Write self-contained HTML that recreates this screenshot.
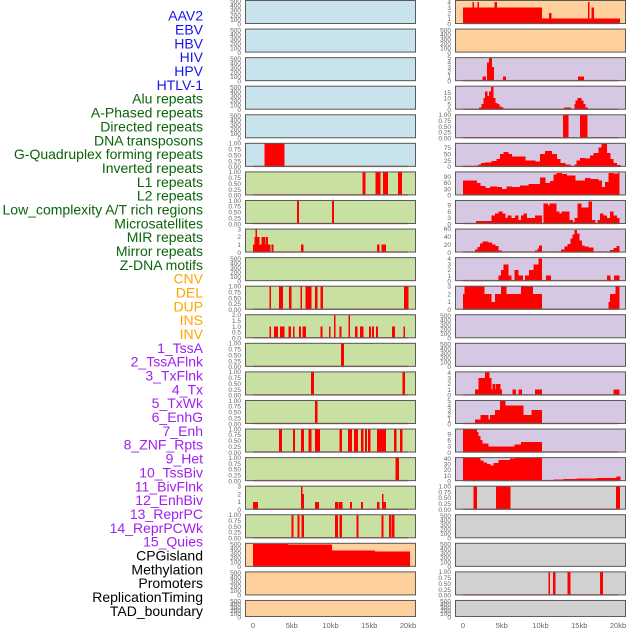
<!DOCTYPE html>
<html><head><meta charset="utf-8"><style>
html,body{margin:0;padding:0;background:#fff;}
svg{display:block;font-family:"Liberation Sans",sans-serif;}
</style></head><body>
<svg id="chart" width="630" height="630" viewBox="0 0 630 630" xmlns="http://www.w3.org/2000/svg"></svg>
<script>
// ---------- data ----------
const featureLabels = ["AAV2","EBV","HBV","HIV","HPV","HTLV-1","Alu repeats","A-Phased repeats","Directed repeats","DNA transposons","G-Quadruplex forming repeats","Inverted repeats","L1 repeats","L2 repeats","Low_complexity A/T rich regions","Microsatellites","MIR repeats","Mirror repeats","Z-DNA motifs","CNV","DEL","DUP","INS","INV","1_TssA","2_TssAFlnk","3_TxFlnk","4_Tx","5_TxWk","6_EnhG","7_Enh","8_ZNF_Rpts","9_Het","10_TssBiv","11_BivFlnk","12_EnhBiv","13_ReprPC","14_ReprPCWk","15_Quies","CPGisland","Methylation","Promoters","ReplicationTiming","TAD_boundary"];
const labelColors = ["#1515ee","#1515ee","#1515ee","#1515ee","#1515ee","#1515ee","#0a640a","#0a640a","#0a640a","#0a640a","#0a640a","#0a640a","#0a640a","#0a640a","#0a640a","#0a640a","#0a640a","#0a640a","#0a640a","#ffa500","#ffa500","#ffa500","#ffa500","#ffa500","#a020f0","#a020f0","#a020f0","#a020f0","#a020f0","#a020f0","#a020f0","#a020f0","#a020f0","#a020f0","#a020f0","#a020f0","#a020f0","#a020f0","#a020f0","#000","#000","#000","#000","#000"];
const xTicks = [0,5,10,15,20];
const xTickLabels = ["0","5kb","10kb","15kb","20kb"];

// segments: [startKb, endKb, value]
const L6 = [[1.5,4.0,1]];
const L7 = [[14.1,14.5,1],[15.8,16.4,1],[16.8,17.4,1],[18.7,19.2,1]];
const L8 = [[5.7,5.9,1],[10.2,10.4,1]];
const L9 = [[0,0.2,1],[0.2,0.3,2],[0.3,0.5,3],[0.5,0.8,2],[0.8,1.1,1],[1.1,1.6,2],[1.6,1.7,1],[1.7,1.9,2],[1.9,2.2,1],[2.4,2.6,1],[6.2,6.5,1],[16.0,16.3,1],[16.6,17.1,1]];
const L11 = [[2.1,2.3,1],[3.35,3.8,1],[4.65,4.9,1],[6.1,6.3,1],[6.8,7.5,1],[8.0,8.3,1],[8.7,9.0,1],[19.5,20.0,1]];
const L12 = [[2.1,2.28,1],[2.71,3.18,1],[3.48,4.0,1],[4.56,4.86,1],[5.16,5.33,1],[5.94,6.15,1],[6.37,6.8,1],[8.69,8.95,1],[9.8,9.98,1],[10.45,10.62,2],[11.14,11.4,1],[12.3,12.47,2],[13.16,13.46,1],[13.8,14.24,1],[14.97,15.18,1],[15.35,15.6,1],[15.87,16.09,1],[17.94,18.28,1],[19.4,19.6,1]];
const L13 = [[11.35,11.7,1]];
const L14 = [[7.48,7.83,1],[19.27,19.6,1]];
const L15 = [[8.0,8.26,1]];
const L16 = [[3.35,3.7,1],[5.16,5.38,1],[6.19,6.54,1],[7.14,7.48,1],[8.0,8.6,1],[11.14,11.44,1],[12.26,12.73,1],[13.03,13.5,1],[13.94,14.19,1],[14.45,14.7,1],[14.84,15.1,1],[16.0,17.12,1],[18.2,18.45,1],[18.97,19.23,1]];
const L17 = [[18.37,18.8,1]];
const L18 = [[0,0.6,1],[6.19,6.37,3],[6.37,6.54,2],[8.0,8.48,1],[10.58,10.97,1],[11.1,11.48,1],[12.52,12.73,1],[13.94,14.15,1],[16.0,16.3,1],[16.65,16.8,2],[16.8,17.1,1]];
const L19 = [[4.95,5.16,1],[5.72,5.98,1],[6.24,6.54,1],[10.58,10.92,1],[11.14,11.44,1],[13.33,13.55,1],[16.6,16.8,1],[17.55,17.8,1],[17.94,18.2,1]];
const L20 = [[0,4.5,510],[4.5,10.15,495],[10.15,15.7,365],[15.7,20.2,343]];

const R1 = [[0,1.2,3],[1.2,1.37,4],[1.37,1.85,3],[1.85,2.02,4],[2.02,4.04,3],[4.04,4.34,4],[4.34,10.15,3],[10.15,11.1,1],[11.1,11.4,2],[11.4,16.13,1],[16.13,16.3,4],[16.3,16.6,1],[16.6,16.86,3],[16.86,20.2,1]];
const R3 = [[2.5,2.9,1],[3.1,3.35,4],[3.35,3.7,5],[3.7,3.96,3],[5.16,5.5,1],[14.84,15.57,1]];
const R4 = [[2.06,2.41,2],[2.41,2.67,5],[2.67,2.84,10],[2.84,3.1,16],[3.1,3.35,12],[3.35,3.61,16],[3.61,3.87,20],[3.87,4.13,10],[4.13,4.39,6],[4.39,4.65,5],[4.65,4.9,3],[4.9,5.16,2],[5.16,5.42,1],[13.03,13.9,2],[14.37,14.54,5],[14.54,14.8,8],[14.8,15.23,10],[15.23,15.48,8],[15.48,15.74,5],[15.74,16.09,2]];
const R5 = [[12.9,13.55,1],[15.1,16.0,1]];
const R6 = [[0,1.12,3],[1.55,1.98,5],[1.98,2.32,10],[2.32,2.84,15],[2.84,3.7,18],[3.7,4.34,22],[4.34,4.77,30],[4.77,5.2,50],[5.2,5.85,58],[5.85,6.28,50],[6.28,8.0,40],[8.0,9.29,25],[9.29,9.94,20],[9.94,10.58,50],[10.58,11.44,63],[11.44,12.09,50],[12.09,12.52,30],[12.52,13.16,15],[13.16,13.81,10],[13.81,14.24,2],[14.37,14.67,10],[14.67,15.1,25],[15.1,15.74,35],[15.74,16.39,32],[16.39,16.82,45],[16.82,17.46,55],[17.46,17.89,75],[17.89,18.54,90],[18.54,18.97,55],[18.97,19.4,30],[19.4,19.83,15],[19.83,20.26,8]];
const R7 = [[0,1.76,72],[1.76,2.19,60],[2.19,2.84,45],[2.84,3.48,36],[3.48,4.34,42],[4.34,4.99,40],[4.99,5.63,30],[5.63,6.28,42],[6.28,7.35,40],[7.35,8.43,48],[8.43,9.94,55],[9.94,10.58,85],[10.58,11.23,60],[11.23,11.66,68],[11.66,12.09,100],[12.09,12.73,107],[12.73,13.38,103],[13.38,14.45,95],[14.45,15.1,70],[15.1,15.74,72],[15.74,16.39,82],[16.39,17.46,78],[17.46,17.89,70],[17.89,18.32,40],[18.32,18.75,65],[18.75,19.4,108],[19.4,20.04,105],[20.04,20.17,110]];
const R8 = [[0,1.55,0.3],[1.68,3.7,1.5],[3.7,4.13,4],[4.13,4.56,5],[4.56,5.08,6],[5.08,5.42,5],[5.42,5.76,3],[5.76,6.19,4],[6.19,6.71,3],[6.71,7.14,4],[7.14,7.48,2],[7.48,7.78,4],[7.78,8.22,5],[8.22,9.29,3],[9.29,10.15,4],[10.37,10.92,10],[10.92,11.14,9],[11.14,12.0,10],[12.0,12.39,6],[12.39,12.73,5],[12.73,13.72,6],[13.72,14.15,2],[14.15,14.37,1],[14.37,14.8,3],[14.8,15.23,10],[15.23,16.17,8],[16.17,16.6,11],[16.6,17.03,2],[17.38,17.68,2],[17.68,18.11,5],[18.11,18.54,4],[18.54,18.97,3],[18.97,19.4,6],[19.4,19.83,4],[19.83,20.17,3]];
const R9 = [[0,1.25,1],[1.25,1.55,3],[1.55,1.89,8],[1.89,2.19,14],[2.19,2.49,23],[2.49,3.27,28],[3.27,3.7,25],[3.7,4.13,20],[4.13,4.56,17],[4.56,4.99,5],[5.85,7.99,1.5],[9.29,9.59,5],[9.59,9.81,10],[9.81,10.15,18],[10.15,11.23,1],[11.23,12.0,3],[12.0,12.65,2],[12.65,13.08,8],[13.08,13.5,15],[13.5,13.85,22],[13.85,14.11,35],[14.11,14.37,45],[14.37,14.67,57],[14.67,14.97,48],[14.97,15.31,30],[15.31,15.66,18],[15.66,16.17,15],[16.17,16.82,13],[16.82,17.25,1],[18.97,19.4,6],[19.4,19.83,12],[19.83,20.17,17]];
const R10 = [[4.56,4.9,1],[4.9,5.25,2],[5.25,5.85,3],[5.85,6.19,1],[6.62,7.14,2],[7.14,7.7,1],[8.0,8.52,1],[8.52,9.12,2],[9.12,9.72,3],[9.72,10.15,4],[10.71,11.31,1],[18.58,18.97,1],[19.48,20.17,1]];
const R11 = [[0,0.17,2],[0.17,2.71,3],[2.71,3.61,2],[3.61,4.13,1],[4.13,4.9,2],[4.9,5.55,3],[5.55,7.48,2],[7.48,8.99,3],[8.99,10.15,2],[18.75,18.97,1],[18.97,19.7,2],[19.7,20.17,3]];
const R14 = [[1.55,1.98,1],[1.98,2.84,3],[2.84,3.35,4],[3.35,3.61,3],[3.61,3.78,1],[3.78,4.13,2],[4.13,4.26,1],[4.26,4.77,2],[4.77,4.99,1],[6.37,6.8,1],[7.14,7.57,1],[9.29,10.15,1],[19.4,20.17,1]];
const R15 = [[1.55,2.28,1],[2.28,3.27,2],[3.27,3.48,1],[3.48,4.13,2],[4.13,4.77,3],[4.77,5.42,5],[5.42,7.78,4],[7.78,8.86,2],[8.86,10.15,3]];
const R16 = [[0,1.76,11.4],[1.76,1.98,10],[1.98,2.19,8],[2.19,2.49,6],[2.49,3.27,4.5],[3.27,6.62,3],[6.62,7.48,4],[7.48,10.15,5]];
const R17 = [[0,2.19,42],[2.19,2.62,37],[2.62,3.05,33],[3.05,3.48,31],[3.48,3.91,28],[3.91,4.56,32],[4.56,6.06,38],[6.06,6.71,40],[6.71,10.15,42],[11.66,12.95,3],[12.95,14.67,4],[14.67,17.25,5],[17.25,19.83,6],[19.83,20.26,8]];
const R18 = [[1.33,1.77,1],[4.26,6.06,1],[19.74,20.2,1]];
const R21 = [[11.0,11.2,1],[11.6,11.87,1],[13.5,13.85,1],[17.68,18.0,1]];

const T500 = [0,100,200,300,400,500], T1 = [0,0.25,0.5,0.75,1], T1L = ["0.00","0.25","0.50","0.75","1.00"];
const BLUE="#c9e3ec", GREEN="#c8e0a2", ORANGE="#fed09e", PURPLE="#d6c8e2", GRAY="#d1d1d1";
const leftPanels = [
 [null,520,T500,null,BLUE],[null,520,T500,null,BLUE],[null,520,T500,null,BLUE],[null,520,T500,null,BLUE],[null,520,T500,null,BLUE],
 [L6,1,T1,T1L,BLUE],[L7,1,T1,T1L,GREEN],[L8,1,T1,T1L,GREEN],[L9,3,[0,1,2,3],null,GREEN],[null,520,T500,null,GREEN],
 [L11,1,T1,T1L,GREEN],[L12,2,[0,0.5,1,1.5,2],["0.0","0.5","1.0","1.5","2.0"],GREEN],[L13,1,T1,T1L,GREEN],[L14,1,T1,T1L,GREEN],
 [L15,1,T1,T1L,GREEN],[L16,1,T1,T1L,GREEN],[L17,1,T1,T1L,GREEN],[L18,3,[0,1,2,3],null,GREEN],[L19,1,T1,T1L,GREEN],
 [L20,520,T500,null,ORANGE],[null,520,T500,null,ORANGE],[null,520,T500,null,ORANGE]];
const rightPanels = [
 [R1,4.3,[0,1,2,3,4],null,ORANGE],[null,520,T500,null,ORANGE],[R3,5,[0,1,2,3,4,5],null,PURPLE],[R4,20.5,[0,5,10,15],null,PURPLE],
 [R5,1,T1,T1L,PURPLE],[R6,92,[0,25,50,75],null,PURPLE],[R7,112,[0,30,60,90],null,PURPLE],[R8,11.4,[0,3,6,9],null,PURPLE],
 [R9,59,[0,20,40,60],null,PURPLE],[R10,4.2,[0,1,2,3,4],null,PURPLE],[R11,3,[0,1,2,3],null,PURPLE],[null,520,T500,null,PURPLE],
 [null,520,T500,null,PURPLE],[R14,4.1,[0,1,2,3,4],null,PURPLE],[R15,5.1,[0,1,2,3,4,5],null,PURPLE],[R16,11.4,[0,3,6,9],null,PURPLE],
 [R17,42,[0,10,20,30,40],null,PURPLE],[R18,1,T1,T1L,GRAY],[null,520,T500,null,GRAY],[null,520,T500,null,GRAY],
 [R21,1,T1,T1L,GRAY],[null,520,T500,null,GRAY]];

// ---------- drawing ----------
const NS = "http://www.w3.org/2000/svg";
const svg = document.getElementById("chart");
function mk(tag, attrs, parent){ const e=document.createElementNS(NS,tag); for(const k in attrs) e.setAttribute(k,attrs[k]); (parent||svg).appendChild(e); return e; }

featureLabels.forEach((t,i)=>{
  const el = mk("text",{x:203,y:17+i*13.84,"text-anchor":"end","dominant-baseline":"middle","font-size":14,fill:labelColors[i]});
  el.textContent = t;
  
  
});

function drawColumn(panels, px0, colName){
  const xs = kb => px0 + 8 + kb*7.75;
  panels.forEach((p,i)=>{
    const [data,ymax,ticks,tl,bg] = p;
    const top = i*28.57, h = (i===21)?17:24, bottom = top+h;
    const ys = v => bottom - (v/ymax)*(h-0.5);
    const g = mk("g",{});
    
    
    mk("rect",{x:px0,y:top,width:171,height:h,fill:bg},g);
    if(data){
      data.forEach(d=>{
        const y = ys(d[2]);
        const r = mk("rect",{x:xs(d[0]),y:y,width:Math.max(0.8,xs(d[1])-xs(d[0]))+0.3,height:bottom-y,fill:"#ff0000","shape-rendering":"crispEdges"},g);
        
        
      });
      mk("line",{x1:xs(0),x2:xs(20),y1:bottom-0.5,y2:bottom-0.5,stroke:"#c04848","stroke-width":1.5,"stroke-opacity":0.7},g);
    }
    mk("rect",{x:px0+0.5,y:top+0.5,width:170,height:h-1,fill:"none",stroke:"#5a5a5a","stroke-width":1},g);
    ticks.forEach((t,k)=>{
      const tx = mk("text",{x:px0-4,y:ys(t)+2.3,"text-anchor":"end","font-size":6.5,fill:"#666"},g);
      tx.textContent = tl ? tl[k] : String(t);
      
      
    });
  });
  xTicks.forEach((t,k)=>{
    const tx = mk("text",{x:xs(t),y:628,"text-anchor":"middle","font-size":7.5,fill:"#666"});
    tx.textContent = xTickLabels[k];
    
    
  });
}
drawColumn(leftPanels, 245, "left");
drawColumn(rightPanels, 455, "right");
</script>
</body></html>
